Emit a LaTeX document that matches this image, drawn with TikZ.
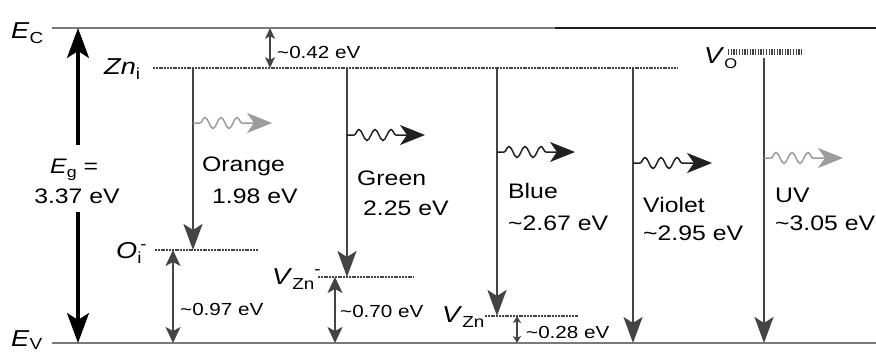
\documentclass[tikz,border=0pt]{standalone}
\usepackage{fontspec}
\setmainfont{Liberation Sans}
\usepackage{graphicx}
\usetikzlibrary{arrows.meta,decorations.pathmorphing}
\definecolor{lvl}{HTML}{7A7A7A}
\definecolor{arr}{HTML}{444444}
\definecolor{darkl}{HTML}{202020}
\definecolor{lite}{HTML}{9C9C9C}
\newcommand\hs[1]{\scalebox{1.18}[1]{#1}}
\newcommand\tld{\textasciitilde}
\newcommand\sbs[1]{\raisebox{-5pt}{\fontsize{16}{16}\selectfont #1}}
\newcommand\sps[1]{\raisebox{9pt}{\fontsize{16}{16}\selectfont #1}}
\tikzset{
  bandline/.style={line width=2.4pt, draw=lvl},
  deflev/.style={draw=arr, line width=1.2pt, dash pattern=on 2pt off 0.8pt},
  transarr/.style={draw=arr, line width=2.5pt, -{Stealth[length=26pt,width=19pt,inset=6pt]}},
  egarr/.style={draw=black, line width=3.2pt, -{Stealth[length=30pt,width=22pt,inset=7pt]}},
  gaparr/.style={draw=arr, line width=1.8pt, {Stealth[length=16pt,width=15pt,inset=4pt]}-{Stealth[length=16pt,width=15pt,inset=4pt]}},
  topgap/.style={draw=arr, line width=1.5pt, {Stealth[length=11pt,width=10pt,inset=3pt]}-{Stealth[length=11pt,width=10pt,inset=3pt]}},
  tinygap/.style={draw=arr, line width=1.2pt, {Stealth[length=7pt,width=8pt,inset=2pt]}-{Stealth[length=7pt,width=8pt,inset=2pt]}},
  wavearr/.style={line width=1.5pt, decorate, decoration={snake, amplitude=5.5pt, segment length=16pt, pre length=7pt, post length=23pt}, -{Stealth[length=25pt,width=20pt,inset=7pt]}},
  bigtxt/.style={font=\fontsize{21}{21}\selectfont, anchor=base west, inner sep=0pt},
  spctxt/.style={font=\fontsize{23}{23}\selectfont, anchor=base west, inner sep=0pt},
  smalltxt/.style={font=\fontsize{17.5}{17.5}\selectfont, anchor=base west, inner sep=0pt},
}
\begin{document}
\begin{tikzpicture}[x=1pt,y=-1pt]
\useasboundingbox[fill=white] (0,0) rectangle (876,354);

% band edges
\coordinate (ecL) at (52,28); \coordinate (ecM) at (555,28); \coordinate (ecR) at (876,28);
\coordinate (evL) at (52,343); \coordinate (evR) at (876,343);
\draw[bandline] (ecL) -- (ecM);
\draw[bandline, draw=darkl] (ecM) -- (ecR);
\draw[bandline] (evL) -- (evR);
\node[spctxt] (ecLbl) at (11,38) {\hs{\textit{E}\sbs{C}}};
\node[spctxt] (evLbl) at (11,346) {\hs{\textit{E}\raisebox{-3pt}{\fontsize{16}{16}\selectfont V}}};

% band gap
\coordinate (egTop) at (78,28); \coordinate (egUp) at (78,145);
\coordinate (egDn) at (78,212); \coordinate (egBot) at (78,343);
\draw[egarr] (egUp) -- (egTop);
\draw[egarr] (egDn) -- (egBot);
\node[bigtxt] (egLbl) at (50,173) {\hs{\textit{E}\raisebox{-4pt}{\fontsize{15}{15}\selectfont g} =}};
\node[bigtxt, anchor=base] (egVal) at (77,203) {\hs{3.37 eV}};

% defect levels
\coordinate (znA) at (153,68); \coordinate (znB) at (677,68);
\draw[deflev] (znA) -- (znB);
\node[spctxt] (znLbl) at (104,74) {\hs{\textit{Zn}\sbs{i}}};

\coordinate (oiA) at (155,250); \coordinate (oiB) at (258,250);
\draw[deflev] (oiA) -- (oiB);
\node[spctxt] (oiLbl) at (116,258) {\hs{\textit{O}\sbs{i}\kern-1pt\sps{-}}};

\coordinate (vzA) at (318,277); \coordinate (vzB) at (414,277);
\draw[deflev] (vzA) -- (vzB);
\node[spctxt] (vzLbl) at (272,284) {\hs{\textit{V}\sbs{Zn}\raisebox{10pt}{\fontsize{16}{16}\selectfont -}}};

\coordinate (vbA) at (485,316); \coordinate (vbB) at (578,316);
\draw[deflev] (vbA) -- (vbB);
\node[spctxt] (vbLbl) at (442,322) {\hs{\textit{V}\sbs{Zn}}};

\coordinate (voA) at (728,52); \coordinate (voB) at (802,52);
\draw[draw=arr, line width=6pt, dash pattern=on 1.3pt off 1.4pt] (voA) -- (voB);
\node[spctxt] (voLbl) at (704,63) {\hs{\textit{V}\raisebox{-5pt}{\fontsize{14}{14}\selectfont O}}};

% small gaps
\coordinate (g42a) at (270,28); \coordinate (g42b) at (270,68);
\draw[topgap] (g42a) -- (g42b);
\node[smalltxt] (g42Lbl) at (277,58) {\hs{\tld0.42 eV}};

\coordinate (g97a) at (173,250); \coordinate (g97b) at (173,343);
\draw[gaparr] (g97a) -- (g97b);
\node[smalltxt] (g97Lbl) at (180,315) {\hs{\tld0.97 eV}};

\coordinate (g70a) at (335,277); \coordinate (g70b) at (335,343);
\draw[gaparr] (g70a) -- (g70b);
\node[smalltxt] (g70Lbl) at (340,317) {\hs{\tld0.70 eV}};

\coordinate (g28a) at (517,316); \coordinate (g28b) at (517,343);
\draw[tinygap] (g28a) -- (g28b);
\node[smalltxt] (g28Lbl) at (526,338) {\hs{\tld0.28 eV}};

% transitions
\coordinate (tO) at (193,68);  \coordinate (eO) at (193,250);
\coordinate (tG) at (347,68);  \coordinate (eG) at (347,277);
\coordinate (tB) at (497,68);  \coordinate (eB) at (497,316);
\coordinate (tV) at (633,68);  \coordinate (eV) at (633,343);
\coordinate (tU) at (764,58);  \coordinate (eU) at (764,343);
\draw[transarr] (tO) -- (eO);
\draw[transarr] (tG) -- (eG);
\draw[transarr] (tB) -- (eB);
\draw[transarr] (tV) -- (eV);
\draw[transarr] (tU) -- (eU);

% emitted photons
\coordinate (wO1) at (193,123); \coordinate (wO2) at (272,123);
\coordinate (wG1) at (347,135); \coordinate (wG2) at (425,135);
\coordinate (wB1) at (497,152); \coordinate (wB2) at (575,152);
\coordinate (wV1) at (633,163); \coordinate (wV2) at (712,163);
\coordinate (wU1) at (764,158); \coordinate (wU2) at (843,158);
\draw[wavearr, draw=lite] (wO1) -- (wO2);
\draw[wavearr, draw=darkl] (wG1) -- (wG2);
\draw[wavearr, draw=darkl] (wB1) -- (wB2);
\draw[wavearr, draw=darkl] (wV1) -- (wV2);
\draw[wavearr, draw=lite] (wU1) -- (wU2);

% labels
\node[bigtxt] (oName) at (202,171) {\hs{Orange}};
\node[bigtxt] (oVal) at (212,203) {\hs{1.98 eV}};
\node[bigtxt] (gName) at (357,185) {\hs{Green}};
\node[bigtxt] (gVal) at (363,215) {\hs{2.25 eV}};
\node[bigtxt] (bName) at (508,198) {\hs{Blue}};
\node[bigtxt] (bVal) at (508,230) {\hs{\tld2.67 eV}};
\node[bigtxt] (vName) at (643,212) {\hs{Violet}};
\node[bigtxt] (vVal) at (643,240) {\hs{\tld2.95 eV}};
\node[bigtxt] (uName) at (775,202) {\hs{UV}};
\node[bigtxt] (uVal) at (775,230) {\hs{\tld3.05 eV}};
\end{tikzpicture}
\end{document}
